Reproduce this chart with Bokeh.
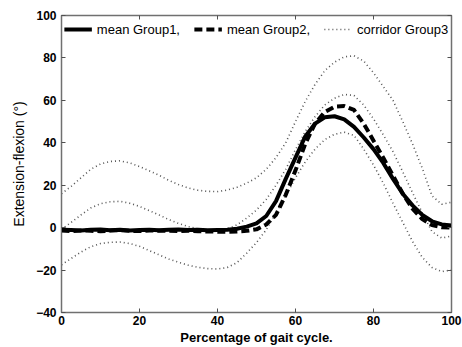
from bokeh.plotting import figure
from bokeh.models import Range1d, LinearAxis, FixedTicker, Legend, LegendItem, CustomJSTickFormatter
from bokeh.embed import file_html
from bokeh.resources import INLINE

pct = [0, 2.5, 5, 7.5, 10, 12.5, 15, 17.5, 20, 22.5, 25, 27.5, 30, 32.5, 35, 37.5,
       40, 42.5, 45, 47.5, 50, 52.5, 55, 57.5, 60, 62.5, 65, 67.5, 70, 72.5, 75,
       77.5, 80, 82.5, 85, 87.5, 90, 92.5, 95, 97.5, 100]

mean_group1 = [-1.0, -1.1, -1.3, -1.0, -0.9, -1.2, -1.0, -1.3, -1.1, -1.0, -1.2, -1.0,
               -0.9, -1.1, -1.0, -1.2, -1.1, -1.0, -0.5, 0.5, 2.0, 5.5, 12.5, 23.0,
               33.0, 43.0, 49.0, 52.0, 52.5, 51.0, 47.5, 42.5, 37.0, 30.5, 23.0, 16.0,
               10.5, 6.0, 3.0, 1.5, 1.0]

mean_group2 = [-1.4, -1.6, -1.3, -1.5, -1.7, -1.4, -1.2, -1.5, -1.6, -1.3, -1.5, -1.4,
               -1.6, -1.5, -1.7, -1.8, -1.9, -2.0, -1.8, -1.5, -0.8, 1.5, 6.0, 15.5,
               27.0, 39.5, 49.0, 54.5, 57.0, 57.3, 55.5, 49.0, 41.0, 33.0, 24.5, 16.0,
               9.0, 4.0, 1.2, 0.2, 0.0]

corridor_upper = [16, 19.5, 23.5, 27.5, 30, 31.2, 31.5, 30.5, 28.8, 26.8, 24.7, 22.3,
                  20.3, 18.7, 17.6, 17.1, 17, 17.7, 19, 21, 23.5, 27.5, 33, 40, 50,
                  59.5, 67.5, 74, 78, 80.5, 81, 78.5, 73, 66.5, 60, 50, 39.5, 28, 15,
                  11, 12]

corridor_mean = [-0.8, 2.5, 6.0, 9.3, 11.3, 12.2, 12.4, 11.5, 10.0, 8.0, 6.0, 3.8, 2.0,
                 0.5, -0.6, -1.1, -1.3, -0.6, 1.3, 4.5, 8.3, 13.3, 20.0, 27.5, 36.8,
                 45.3, 52.3, 57.8, 61.0, 62.8, 62.3, 57.8, 51.3, 43.8, 35.8, 26.3, 16.5,
                 7.0, -1.9, -4.9, -4.0]

corridor_lower = [-17.5, -14.5, -11.5, -9, -7.5, -6.9, -6.8, -7.5, -8.8, -10.8, -12.8,
                  -14.8, -16.3, -17.7, -18.7, -19.3, -19.5, -18.8, -16.5, -12, -7, -1,
                  7, 15, 23.5, 31, 37, 41.5, 44, 45, 43.5, 37, 29.5, 21, 11.5, 2.5,
                  -6.5, -14, -18.8, -20.7, -20]

x_ticks = [0, 20, 40, 60, 80, 100]
y_ticks = [-40, -20, 0, 20, 40, 60, 80, 100]
x_label = "Percentage of gait cycle."
y_label = "Extension-flexion (°)"
legend_labels = ["mean Group1,", "mean Group2,", "corridor Group3"]

FONT = "Liberation Sans"

p = figure(width=462, height=347, x_range=Range1d(0, 100), y_range=Range1d(-40, 100),
           output_backend="svg", toolbar_location=None,
           min_border_left=61, min_border_right=11, min_border_top=15, min_border_bottom=35)
p.xgrid.visible = False
p.ygrid.visible = False
p.outline_line_color = "#707070"
p.outline_line_width = 1.5
p.background_fill_color = "white"
p.border_fill_color = "white"

c_up = p.line(pct, corridor_upper, line_color="#555555", line_width=1.6, line_dash="1 3")
c_mid = p.line(pct, corridor_mean, line_color="#555555", line_width=1.6, line_dash="1 3")
c_low = p.line(pct, corridor_lower, line_color="#555555", line_width=1.6, line_dash="1 3")
g1 = p.line(pct, mean_group1, line_color="black", line_width=4)
g2 = p.line(pct, mean_group2, line_color="black", line_width=4, line_dash="8 4")

for ax in (p.xaxis[0], p.yaxis[0]):
    ax.major_tick_in = 4
    ax.major_tick_out = 0
    ax.minor_tick_in = 0
    ax.minor_tick_out = 0
    ax.axis_line_color = "#707070"
    ax.major_tick_line_color = "#505050"
    ax.major_label_text_font = FONT
    ax.major_label_text_font_style = "bold"
    ax.major_label_text_font_size = "12px"
    ax.major_label_text_color = "black"
    ax.axis_label_text_color = "black"
    ax.axis_label_text_font = FONT

p.xaxis[0].ticker = FixedTicker(ticks=x_ticks)
p.yaxis[0].ticker = FixedTicker(ticks=y_ticks)
p.xaxis[0].major_label_standoff = 3
p.yaxis[0].major_label_standoff = 5
p.xaxis[0].axis_label = x_label
p.xaxis[0].axis_label_text_font_style = "bold"
p.xaxis[0].axis_label_text_font_size = "13px"
p.xaxis[0].axis_label_standoff = 2
p.yaxis[0].axis_label = y_label
p.yaxis[0].axis_label_text_font_style = "normal"
p.yaxis[0].axis_label_text_font_size = "14px"
p.yaxis[0].axis_label_standoff = 6

top = LinearAxis(ticker=FixedTicker(ticks=x_ticks))
right = LinearAxis(ticker=FixedTicker(ticks=y_ticks))
for ax in (top, right):
    ax.major_tick_in = 4
    ax.major_tick_out = 0
    ax.minor_tick_in = 0
    ax.minor_tick_out = 0
    ax.axis_line_color = "#707070"
    ax.major_tick_line_color = "#505050"
    ax.formatter = CustomJSTickFormatter(code="return ''")
    ax.major_label_standoff = 0
p.add_layout(top, "above")
p.add_layout(right, "right")

legend = Legend(items=[LegendItem(label=legend_labels[0], renderers=[g1]),
                       LegendItem(label=legend_labels[1], renderers=[g2]),
                       LegendItem(label=legend_labels[2], renderers=[c_up])],
                orientation="horizontal", location="top_center")
legend.label_text_font = FONT
legend.label_text_font_size = "13px"
legend.label_text_color = "black"
legend.glyph_width = 28
legend.label_standoff = 5
legend.spacing = 14
legend.padding = 4
legend.margin = 4
legend.border_line_color = None
legend.background_fill_alpha = 0
p.add_layout(legend)

open("out.html", "w").write(file_html(p, INLINE))
